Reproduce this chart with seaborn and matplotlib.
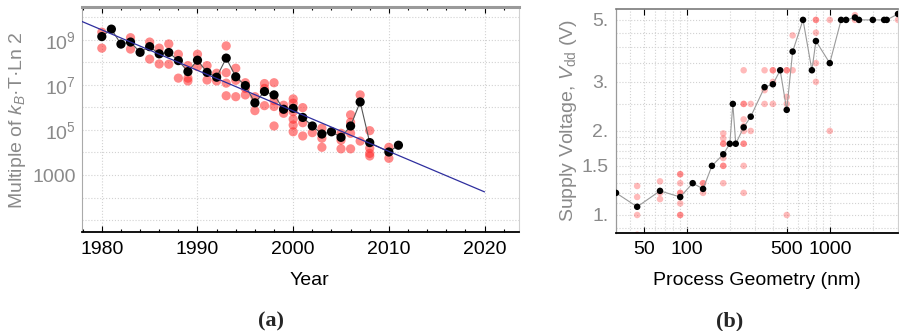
import numpy as np
import pandas as pd
import seaborn as sns
import matplotlib.pyplot as plt
from matplotlib.ticker import FixedLocator, NullFormatter, LogLocator

sns.set_theme(style="white")
plt.rcParams['font.family'] = ['Liberation Sans', 'DejaVu Sans']
plt.rcParams['mathtext.fontset'] = 'custom'
plt.rcParams['mathtext.rm'] = 'Liberation Sans'
plt.rcParams['mathtext.it'] = 'Liberation Sans:italic'

# ---- (a) energy per operation, multiples of kT ln2 ----
years = [1980, 1981, 1982, 1983, 1984, 1985, 1986, 1987, 1988, 1989,
         1990, 1991, 1992, 1993, 1994, 1995, 1996, 1997, 1998, 1999,
         2000, 2001, 2002, 2003, 2004, 2005, 2006, 2007, 2008, 2010, 2011]
kbt_median = [1.4e9, 3.0e9, 6.5e8, 8.0e8, 2.8e8, 5.0e8, 2.4e8, 2.75e8, 1.2e8, 3.9e7,
              1.25e8, 3.6e7, 2.2e7, 1.55e8, 2.3e7, 9.3e6, 1.6e6, 5.1e6, 3.6e6, 8.3e5,
              9.1e5, 3.6e5, 1.5e5, 6.6e4, 8.3e4, 4.7e4, 1.5e5, 1.75e6, 2.75e4, 1.05e4, 2.1e4]

chip_years = ([1980] * 2 + [1983] * 2 + [1985] * 2 + [1986] * 2 + [1987] * 2 + [1988] * 2
              + [1989] * 3 + [1990] * 2 + [1991] * 2 + [1992] * 2 + [1993] * 4 + [1994] * 3
              + [1995] * 3 + [1996] * 2 + [1997] * 3 + [1998] * 4 + [1999] * 3 + [2000] * 6
              + [2001] * 3 + [2002] * 1 + [2003] * 3 + [2005] * 3 + [2006] * 4 + [2007] * 2
              + [2008] * 4 + [2010] * 2)
chip_kbt = [2.2e9, 4.3e8,
            1.25e9, 3.9e8,
            8.0e8, 1.4e8,
            4.3e8, 8.5e7,
            6.6e8, 8.3e7,
            2.3e8, 2.0e7,
            7.2e7, 2.0e7, 1.5e7,
            2.3e8, 6.5e7,
            7.2e7, 1.65e7,
            3.3e7, 1.5e7,
            5.4e8, 3.5e7, 1.2e7, 3.3e6,
            5.5e7, 1.6e7, 3.0e6,
            1.25e7, 7.0e6, 3.6e6,
            3.0e6, 7.2e5,
            1.15e7, 7.0e6, 1.2e6,
            1.25e7, 2.0e6, 1.1e6, 1.5e5,
            1.25e6, 8.0e5, 5.5e5,
            2.4e6, 1.55e6, 6.5e5, 3.0e5, 1.65e5, 8.3e4,
            9.8e5, 2.1e5, 5.4e4,
            7.6e4,
            1.2e5, 4.3e4, 1.7e4,
            7.1e4, 3.5e4, 1.45e4,
            4.7e5, 2.2e5, 7.1e4, 1.45e4,
            3.6e6, 3.2e4,
            9.3e4, 1.55e4, 9.1e3, 7.0e3,
            1.7e4, 5.5e3]

fit_years = [1975, 2020]
fit_kbt = [2.2e10, 178]

# ---- (b) supply voltage vs process geometry ----
geometry = [32, 45, 65, 90, 110, 130, 150, 180, 200, 210, 220, 250, 280, 350, 400,
            450, 500, 550, 650, 750, 800, 1000, 1200, 1300, 1500, 1600, 2000, 2400,
            2500, 3000]
vdd_median = [1.2, 1.07, 1.22, 1.16, 1.3, 1.24, 1.5, 1.65, 1.8, 2.5, 1.8, 2.06, 2.25,
              2.87, 2.94, 3.3, 2.38, 3.85, 5.0, 3.3, 4.2, 3.5, 5.0, 5.0, 5.1, 5.0,
              5.0, 5.0, 5.0, 5.25]

chip_geometry = ([45] * 4 + [65] * 3 + [90] * 8 + [130] * 3 + [180] * 8 + [250] * 10
                 + [280] * 2 + [350] * 3 + [400] * 4 + [500] * 5 + [550] * 2 + [800] * 5
                 + [1000] * 2 + [1500] * 2 + [3000] * 1)
chip_vdd = [1.27, 1.16, 1.0, 0.85,
            1.32, 1.2, 1.14,
            1.4, 1.4, 1.3, 1.2, 1.2, 1.1, 1.0, 1.0,
            1.3, 1.3, 1.2,
            1.96, 1.88, 1.8, 1.8, 1.6, 1.5, 1.5, 1.3,
            3.3, 2.5, 2.5, 2.2, 2.08, 2.0, 1.8, 1.8, 1.5, 1.2,
            2.5, 2.0,
            3.3, 2.8, 2.5,
            3.3, 3.3, 3.0, 2.5,
            3.3, 3.3, 2.65, 2.5, 1.0,
            4.4, 3.3,
            5.0, 5.0, 4.5, 3.5, 3.0,
            5.0, 2.0,
            5.2, 5.0,
            5.0]

gray_txt = '#8a8a8a'
grid_kw = dict(ls=':', color='#d2d2d2', lw=0.8)

fig = plt.figure(figsize=(8.99, 3.31), dpi=100)

# ---------------- panel (a) ----------------
ax1 = fig.add_axes([0.0909, 0.2976, 0.4864, 0.6804])
ax1.set_yscale('log')
sns.scatterplot(x=chip_years, y=chip_kbt, ax=ax1, color='#ff2a2a', alpha=0.55, s=44,
                edgecolor='none', linewidth=0, zorder=2)
sns.lineplot(x=years, y=kbt_median, ax=ax1, color='#555555', lw=0.8, estimator=None,
             sort=False, zorder=3)
sns.scatterplot(x=years, y=kbt_median, ax=ax1, color='black', s=44, edgecolor='none',
                linewidth=0, zorder=4)
sns.lineplot(x=fit_years, y=fit_kbt, ax=ax1, color='#2e2e9e', lw=0.9, zorder=5)

ax1.set_xlim(1977.9, 2023.6)
ax1.set_ylim(2.8, 2.8e10)
ax1.set_xticks([1980, 1990, 2000, 2010, 2020])
ax1.xaxis.set_minor_locator(FixedLocator(np.arange(1978, 2024, 2)))
ax1.set_yticks([1e3, 1e5, 1e7, 1e9])
ax1.set_yticklabels(['1000', '$10^5$', '$10^7$', '$10^9$'])
ax1.yaxis.set_minor_locator(FixedLocator([1e1, 1e2, 1e4, 1e6, 1e8, 1e10]))
ax1.yaxis.set_minor_formatter(NullFormatter())

ax1.tick_params(axis='x', which='both', direction='in', top=True, bottom=True,
                colors='black', labelsize=14, pad=6, width=0.8)
ax1.tick_params(axis='x', which='major', length=4)
ax1.tick_params(axis='x', which='minor', length=2.5)
ax1.tick_params(axis='y', which='both', direction='in', length=0, labelsize=14,
                labelcolor=gray_txt, pad=4)

ax1.grid(True, which='major', axis='x', **grid_kw)
ax1.grid(True, which='both', axis='y', **grid_kw)

ax1.spines['top'].set_color('#9a9a9a')
ax1.spines['top'].set_linewidth(2.2)
ax1.spines['left'].set_color('#aaaaaa')
ax1.spines['left'].set_linewidth(0.8)
ax1.spines['right'].set_color('#d0d0d0')
ax1.spines['right'].set_linewidth(0.8)
ax1.spines['bottom'].set_color('black')
ax1.spines['bottom'].set_linewidth(1.3)

ax1.set_xlabel('Year', fontsize=14, color='black')
ax1.xaxis.set_label_coords(0.52, -0.215)
ax1.xaxis.label.set_va('center')
ax1.set_ylabel(r'Multiple of $k_B$·T·Ln 2', fontsize=14, color=gray_txt)
ax1.yaxis.set_label_coords(-0.148, 0.5)
ax1.yaxis.label.set_va('center')

# ---------------- panel (b) ----------------
ax2 = fig.add_axes([0.6852, 0.2961, 0.3137, 0.6767])
ax2.set_xscale('log')
ax2.set_yscale('log')
sns.scatterplot(x=chip_geometry, y=chip_vdd, ax=ax2, color='#ff2a2a', alpha=0.32, s=22,
                edgecolor='none', linewidth=0, zorder=2)
sns.lineplot(x=geometry, y=vdd_median, ax=ax2, color='#9a9a9a', lw=0.8, estimator=None,
             sort=False, zorder=3)
sns.scatterplot(x=geometry, y=vdd_median, ax=ax2, color='black', s=22, edgecolor='none',
                linewidth=0, zorder=4)

ax2.set_xlim(32, 3000)
ax2.set_ylim(0.862, 5.47)
ax2.set_xticks([50, 100, 500, 1000])
ax2.set_xticklabels(['50', '100', '500', '1000'])
ax2.xaxis.set_minor_locator(LogLocator(base=10, subs=np.arange(2, 10)))
ax2.xaxis.set_minor_formatter(NullFormatter())
ax2.set_yticks([1, 1.5, 2, 3, 5])
ax2.set_yticklabels(['1.', '1.5', '2.', '3.', '5.'])
ax2.yaxis.set_minor_locator(FixedLocator([0.9, 1.1, 1.2, 1.3, 1.4, 1.6, 1.7, 1.8, 1.9,
                                          2.5, 3.5, 4.0, 4.5]))
ax2.yaxis.set_minor_formatter(NullFormatter())

ax2.tick_params(axis='x', which='major', direction='in', top=True, bottom=True,
                length=4, width=0.8, colors='black', labelsize=14, pad=6)
ax2.tick_params(axis='x', which='minor', length=0)
ax2.tick_params(axis='y', which='both', direction='in', length=0, labelsize=14,
                labelcolor=gray_txt, pad=5.5)

ax2.grid(True, which='both', axis='both', **grid_kw)

ax2.spines['top'].set_color('#7a7a7a')
ax2.spines['top'].set_linewidth(1.2)
ax2.spines['left'].set_color('#9a9a9a')
ax2.spines['left'].set_linewidth(0.9)
ax2.spines['right'].set_color('#d0d0d0')
ax2.spines['right'].set_linewidth(0.8)
ax2.spines['bottom'].set_color('black')
ax2.spines['bottom'].set_linewidth(1.3)

ax2.set_xlabel('Process Geometry (nm)', fontsize=14, color='black')
ax2.xaxis.set_label_coords(0.5, -0.213)
ax2.xaxis.label.set_va('center')
ax2.set_ylabel(r'Supply Voltage, $V_{\mathrm{dd}}$ (V)', fontsize=14, color=gray_txt)
ax2.yaxis.set_label_coords(-0.170, 0.5)
ax2.yaxis.label.set_va('center')

# sub-figure captions
fig.text(271 / 899, 1 - 321 / 331, '(a)', family='Liberation Serif', weight='bold',
         fontsize=16, ha='center', va='center')
fig.text(730 / 899, 1 - 321 / 331, '(b)', family='Liberation Serif', weight='bold',
         fontsize=16, ha='center', va='center')

fig.savefig('out.png', dpi=100)
